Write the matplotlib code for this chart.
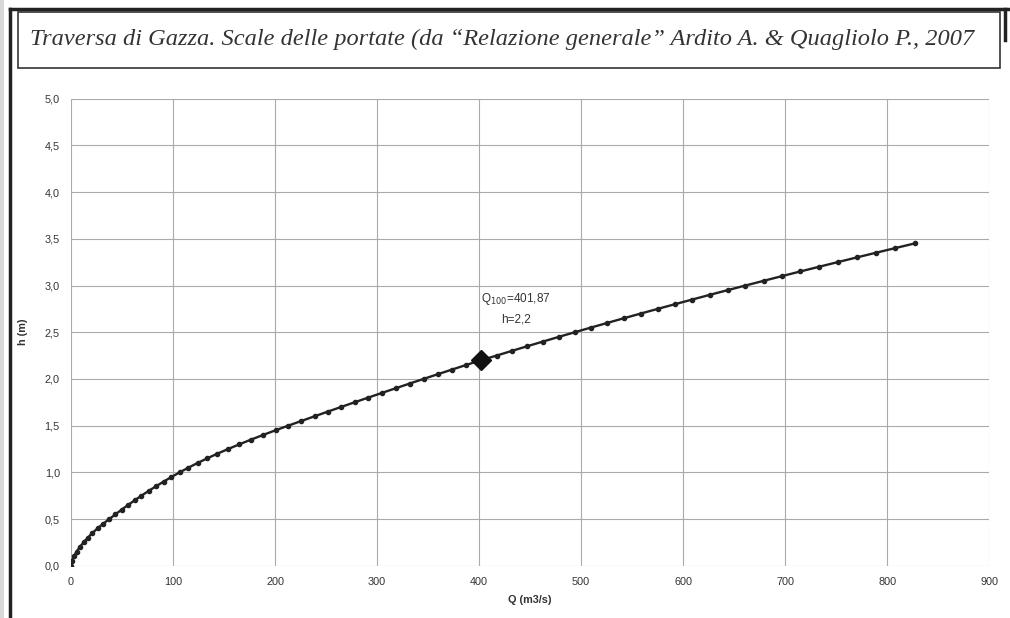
import matplotlib
matplotlib.use("Agg")
import matplotlib.pyplot as plt
from matplotlib.ticker import FuncFormatter
from matplotlib.patches import Rectangle
from matplotlib.lines import Line2D

# scala delle portate (h ogni 0.05 m)
h = [0.00, 0.05, 0.10, 0.15, 0.20, 0.25, 0.30, 0.35, 0.40, 0.45,
     0.50, 0.55, 0.60, 0.65, 0.70, 0.75, 0.80, 0.85, 0.90, 0.95,
     1.00, 1.05, 1.10, 1.15, 1.20, 1.25, 1.30, 1.35, 1.40, 1.45,
     1.50, 1.55, 1.60, 1.65, 1.70, 1.75, 1.80, 1.85, 1.90, 1.95,
     2.00, 2.05, 2.10, 2.15, 2.20, 2.25, 2.30, 2.35, 2.40, 2.45,
     2.50, 2.55, 2.60, 2.65, 2.70, 2.75, 2.80, 2.85, 2.90, 2.95,
     3.00, 3.05, 3.10, 3.15, 3.20, 3.25, 3.30, 3.35, 3.40, 3.45]
Q = [0.0, 0.9, 2.8, 5.4, 8.6, 12.3, 16.4, 21.0, 26.0, 31.6,
     37.6, 43.5, 49.6, 55.9, 62.4, 69.1, 76.0, 83.2, 90.7, 98.5,
     106.6, 115.1, 124.1, 133.6, 143.6, 154.1, 165.1, 176.5, 188.3, 200.5,
     213.1, 225.9, 238.8, 251.8, 264.9, 278.1, 291.4, 304.8, 318.3, 331.9,
     345.6, 359.5, 373.5, 387.6, 401.87, 417.3, 432.2, 447.3, 462.7, 478.2,
     493.9, 509.8, 525.9, 542.1, 558.6, 575.3, 592.1, 609.1, 626.2, 643.6,
     661.2, 678.9, 696.8, 714.8, 733.1, 751.5, 770.1, 788.8, 807.8, 826.9]

Q100 = 401.87
h100 = 2.2

titolo = "Traversa di Gazza. Scale delle portate (da \u201cRelazione generale\u201d Ardito A. & Quagliolo P., 2007"
x_ticks = [0, 100, 200, 300, 400, 500, 600, 700, 800, 900]
y_ticks = [0.0, 0.5, 1.0, 1.5, 2.0, 2.5, 3.0, 3.5, 4.0, 4.5, 5.0]

plt.rcParams['font.family'] = ['Liberation Sans', 'DejaVu Sans']

fig = plt.figure(figsize=(10.1, 6.18), dpi=100)
ax = fig.add_axes([0.0703, 0.0846, 0.909, 0.7557])

ax.plot(Q, h, color="#222222", lw=1.7, marker="o", ms=3.0, zorder=3)
ax.plot([Q100], [h100], marker="D", color="#111111", ms=10, zorder=4)
ax.text(436, 2.76, "Q$_{100}$=401,87\nh=2,2", ha="center", va="center",
        fontsize=8.5, color="#333333", linespacing=1.7)

ax.set_xlim(0, 900)
ax.set_ylim(0, 5)
ax.set_xticks(x_ticks)
ax.set_yticks(y_ticks)
ax.yaxis.set_major_formatter(FuncFormatter(lambda v, p: ("%.1f" % v).replace(".", ",")))
ax.grid(True, color="#aaaaaa", lw=0.8)
ax.set_axisbelow(True)
for s in ax.spines.values():
    s.set_visible(False)
ax.tick_params(length=0, labelsize=7.8, labelcolor="#333333", pad=8)
ax.set_xlabel("Q (m3/s)", fontsize=7.8, fontweight="bold", color="#333333", labelpad=6)
ax.set_ylabel("h (m)", fontsize=7.8, fontweight="bold", color="#333333", labelpad=12)

# riquadro del titolo e cornice
fig.patches.append(Rectangle((18 / 1010, 1 - 68 / 618), 982 / 1010, 56 / 618,
                             transform=fig.transFigure, fill=False, ec="#333333", lw=1.2))
fig.text(30 / 1010, 1 - 39 / 618, titolo, family="Liberation Serif", style="italic",
         fontsize=17.6, color="#333333", va="center", ha="left")
fig.lines.append(Line2D([10 / 1010, 10 / 1010], [0, 1 - 9 / 618], transform=fig.transFigure,
                        color="#222222", lw=2.5))
fig.lines.append(Line2D([10 / 1010, 1], [1 - 9 / 618, 1 - 9 / 618], transform=fig.transFigure,
                        color="#222222", lw=2.5))
fig.lines.append(Line2D([1005 / 1010, 1005 / 1010], [1 - 9 / 618, 1 - 40 / 618],
                        transform=fig.transFigure, color="#222222", lw=2.5))
fig.patches.append(Rectangle((0, 0), 4 / 1010, 1, transform=fig.transFigure,
                             color="#d8d8d8", lw=0))

fig.savefig("out.png", dpi=100)
